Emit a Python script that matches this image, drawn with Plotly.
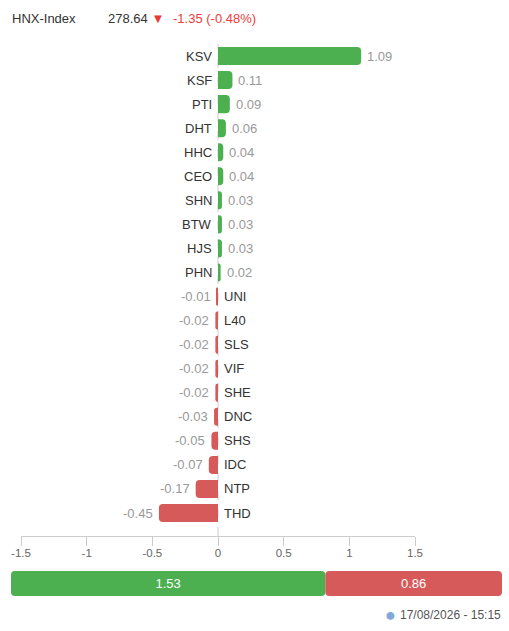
import plotly.graph_objects as go

# stocks influencing the index (points)
tickers = ["KSV", "KSF", "PTI", "DHT", "HHC", "CEO", "SHN", "BTW", "HJS", "PHN",
           "UNI", "L40", "SLS", "VIF", "SHE", "DNC", "SHS", "IDC", "NTP", "THD"]
impact = [1.09, 0.11, 0.09, 0.06, 0.04, 0.04, 0.03, 0.03, 0.03, 0.02,
          -0.01, -0.02, -0.02, -0.02, -0.02, -0.03, -0.05, -0.07, -0.17, -0.45]

# totals up / down
summary_labels = ["1.53", "0.86"]
summary_values = [1.53, 0.86]

tick_vals = [-1.5, -1, -0.5, 0, 0.5, 1, 1.5]
tick_text = ["-1.5", "-1", "-0.5", "0", "0.5", "1", "1.5"]

index_name = "HNX-Index"
index_value = "278.64"
index_change = "-1.35 (-0.48%)"
timestamp = "17/08/2026 - 15:15"

GREEN = "#4CAF50"
RED = "#D65A5A"
FONT = "Liberation Sans, Arial, sans-serif"

# body margin is removed below, so figure pixels == window pixels
W, H = 509, 627
ml, mr = 11, 7
mt = 44
mb = H - 596
ph = H - mt - mb
pw = W - ml - mr


def px(rx):
    return (rx - ml) / pw


def py(ry):
    return (H - mb - ry) / ph


colors = [GREEN if v >= 0 else RED for v in impact]

fig = go.Figure()

fig.add_trace(go.Bar(
    x=impact, y=tickers, orientation="h",
    marker=dict(color=colors, cornerradius=4, line=dict(width=0)),
    hoverinfo="x+y", xaxis="x", yaxis="y",
))

# bottom summary bar (green drawn back from the split so its outer end is rounded)
split = summary_values[0]
fig.add_trace(go.Bar(
    x=[-summary_values[0]], base=[split], y=[0], orientation="h",
    marker=dict(color=GREEN, cornerradius=4, line=dict(width=0)),
    text=[summary_labels[0]], textposition="inside", insidetextanchor="middle",
    textfont=dict(color="white", size=13, family=FONT), width=1,
    xaxis="x2", yaxis="y2", hoverinfo="skip",
))
fig.add_trace(go.Bar(
    x=[summary_values[1]], base=[split], y=[0], orientation="h",
    marker=dict(color=RED, cornerradius=4, line=dict(width=0)),
    text=[summary_labels[1]], textposition="inside", insidetextanchor="middle",
    textfont=dict(color="white", size=13, family=FONT), width=1,
    xaxis="x2", yaxis="y2", hoverinfo="skip",
))

annotations = []
for t, v in zip(tickers, impact):
    pos = v >= 0
    # ticker name on the opposite side of the zero line
    annotations.append(dict(
        x=0, y=t, xref="x", yref="y", text=t, showarrow=False,
        xanchor="right" if pos else "left", xshift=-4 if pos else 4,
        font=dict(color="#333333", size=13, family=FONT),
    ))
    # value just past the bar end
    annotations.append(dict(
        x=v, y=t, xref="x", yref="y", text=f"{v:.2f}", showarrow=False,
        xanchor="left" if pos else "right", xshift=4 if pos else -4,
        font=dict(color="#999999", size=13, family=FONT),
    ))

# header
hy = py(18)
annotations += [
    dict(x=px(10), y=hy, xref="paper", yref="paper", text=index_name, showarrow=False,
         xanchor="left", yanchor="middle", font=dict(color="#333333", size=13, family=FONT)),
    dict(x=px(106), y=hy, xref="paper", yref="paper",
         text=f"{index_value} <span style='color:#E53935'>▼</span>", showarrow=False,
         xanchor="left", yanchor="middle", font=dict(color="#333333", size=13, family=FONT)),
    dict(x=px(171), y=hy, xref="paper", yref="paper", text=index_change,
         showarrow=False, xanchor="left", yanchor="middle",
         font=dict(color="#F03C3C", size=13, family=FONT)),
]

# footer
fy = py(615)
annotations += [
    dict(x=px(503), y=fy, xref="paper", yref="paper", text=timestamp, showarrow=False,
         xanchor="right", yanchor="middle", font=dict(color="#555555", size=12, family=FONT)),
    dict(x=px(398), y=fy, xref="paper", yref="paper", text="●", showarrow=False,
         xanchor="right", yanchor="middle", font=dict(color="#7FA9D9", size=18, family=FONT)),
]

fig.update_layout(
    width=W, height=H,
    margin=dict(t=mt, b=mb, l=ml, r=mr, pad=0, autoexpand=False),
    paper_bgcolor="white", plot_bgcolor="white",
    barmode="overlay", bargap=0.25, showlegend=False,
    font=dict(family=FONT),
    xaxis=dict(domain=[px(21), px(415)], range=[-1.5, 1.5],
               tickvals=tick_vals, ticktext=tick_text, ticks="outside", ticklen=9,
               ticklabelstandoff=-3,
               tickcolor="#CCCCCC", showline=True, linecolor="#CCCCCC", linewidth=1,
               showgrid=False, zeroline=False, anchor="y", automargin=False,
               tickfont=dict(color="#666666", size=11.5, family=FONT)),
    yaxis=dict(domain=[py(536), 1], type="category", range=[19.956, -0.5],
               showticklabels=False, showgrid=False, zeroline=False, showline=False,
               anchor="x", automargin=False),
    xaxis2=dict(domain=[0, 1], range=[0, sum(summary_values)], visible=False,
                anchor="y2"),
    yaxis2=dict(domain=[0, py(571)], range=[-0.5, 0.5], visible=False, anchor="x2"),
    annotations=annotations,
    shapes=[dict(type="line", xref="x", yref="y domain", x0=0, x1=0, y0=0, y1=1,
                 line=dict(color="#CCCCCC", width=1, dash="dash"), layer="below")],
)

fig.write_html("out.html", config={"displayModeBar": False},
               post_script="document.body.style.margin='0';document.body.style.overflow='hidden';")
